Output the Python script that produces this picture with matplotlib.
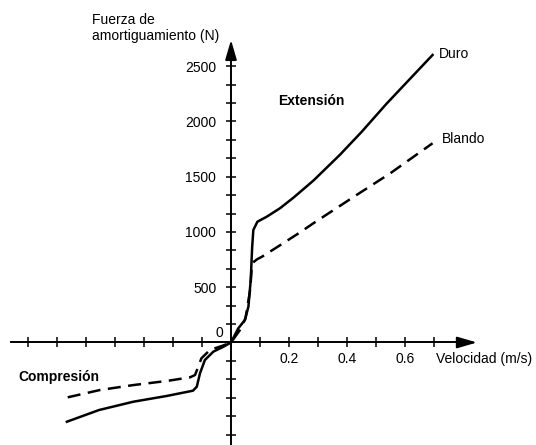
import matplotlib.pyplot as plt
import numpy as np

plt.rcParams['font.family'] = ['Liberation Sans', 'DejaVu Sans']
plt.rcParams['font.size'] = 10

# curves: velocity (m/s), damping force (N)
duro_v = [-0.566, -0.455, -0.337, -0.222, -0.131, -0.118, -0.107, -0.09, -0.061,
          -0.026, 0, 0.025, 0.048, 0.06, 0.068, 0.073, 0.077, 0.091, 0.123, 0.169,
          0.215, 0.284, 0.376, 0.45, 0.536, 0.695]
duro_f = [-717, -611, -536, -484, -436, -400, -279, -158, -83,
          -38, 0, 128, 204, 324, 566, 867, 1018, 1093, 1138, 1215,
          1310, 1465, 1700, 1905, 2160, 2602]

blando_v = [-0.563, -0.452, -0.336, -0.221, -0.141, -0.124, -0.113, -0.102, -0.073,
            -0.03, 0, 0.03, 0.05, 0.066, 0.072, 0.079, 0.091, 0.106, 0.169, 0.237,
            0.284, 0.433, 0.549, 0.695]
blando_f = [-496, -430, -385, -348, -315, -294, -219, -143, -68,
            -30, 0, 110, 220, 475, 701, 731, 755, 775, 880, 995,
            1079, 1335, 1531, 1803]

x_ticks = np.round(np.arange(-7, 8) * 0.1, 1)
x_labels = [0.2, 0.4, 0.6]
y_ticks = np.arange(-5, 16) * 500 / 3
y_labels = [500, 1000, 1500, 2000, 2500]

fig = plt.figure(figsize=(5.36, 4.45), dpi=100)
ax = fig.add_axes([0, 0, 1, 1])
ax.set_xlim(-0.7966, 1.0517)
ax.set_ylim(-927.6, 3099.5)

ax.plot(duro_v, duro_f, color='black', lw=1.8, solid_joinstyle='round')
ax.plot(blando_v, blando_f, color='black', lw=1.8, dashes=(5.2, 3.0))

# axes crossing at the origin, with arrow heads
for side in ['top', 'right']:
    ax.spines[side].set_visible(False)
for side in ['left', 'bottom']:
    ax.spines[side].set_position(('data', 0))
    ax.spines[side].set_linewidth(1.4)
ax.spines['left'].set_bounds(-950, 2650)
ax.spines['bottom'].set_bounds(-0.757, 0.80)
arrow = dict(arrowstyle='-|>,head_length=1.2,head_width=0.35', color='black',
             lw=1.4, shrinkA=0, shrinkB=0, mutation_scale=10)
ax.annotate('', xy=(0.848, 0), xytext=(0.78, 0), arrowprops=arrow)
ax.annotate('', xy=(0, 2738), xytext=(0, 2600), arrowprops=arrow)

ax.set_xticks(x_ticks, labels=[f'{t:.1f}' if t in x_labels else '' for t in x_ticks])
ax.set_yticks(y_ticks, labels=[str(int(round(t))) if int(round(t)) in y_labels else ''
                               for t in y_ticks])
ax.tick_params(axis='both', direction='inout', length=7.2, width=1.1,
               labelsize=10, color='black')
ax.tick_params(axis='x', pad=3)
ax.tick_params(axis='y', pad=7)

ax.text(-0.041, 86, '0', ha='center', va='center')
ax.text(-0.479, 2982, 'Fuerza de\namortiguamiento (N)', ha='left', va='top',
        linespacing=1.15)
ax.text(0.707, -149, 'Velocidad (m/s)', ha='left', va='center')
ax.text(0.717, 2611, 'Duro', ha='left', va='center')
ax.text(0.728, 1841, 'Blando', ha='left', va='center')
ax.text(0.278, 2190, 'Extensión', ha='center', va='center', fontweight='bold')
ax.text(-0.593, -312, 'Compresión', ha='center', va='center', fontweight='bold')

fig.savefig('out.png', dpi=100)
